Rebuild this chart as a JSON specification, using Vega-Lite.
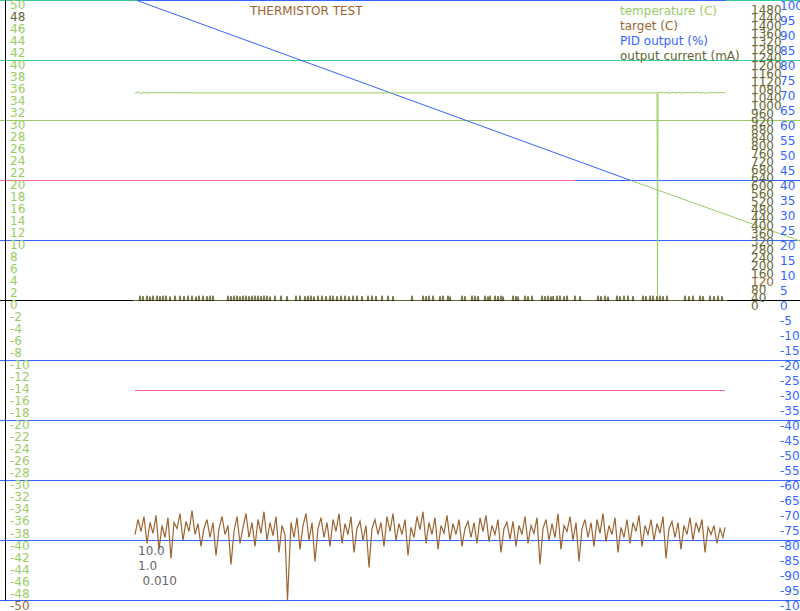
{
  "$schema": "https://vega.github.io/schema/vega-lite/v6.json",
  "width": 800,
  "height": 611,
  "autosize": {"type": "none"},
  "padding": 0,
  "background": "white",
  "config": {"view": {"stroke": null}, "text": {"font": "DejaVu Sans", "fontSize": 12}},
  "resolve": {"scale": {"y": "independent", "color": "independent"}},
  "layer": [
    {
      "data": {"values": [
        {"v": 50, "x0": 0, "x1": 137, "k": "upper"},
        {"v": 50, "x0": 137, "x1": 726, "k": "grid"},
        {"v": 50, "x0": 726, "x1": 800, "k": "upper"},
        {"v": 40, "x0": 0, "x1": 800, "k": "upper"},
        {"v": 30, "x0": 0, "x1": 800, "k": "band"},
        {"v": 20, "x0": 0, "x1": 575, "k": "limit"},
        {"v": 20, "x0": 575, "x1": 800, "k": "grid"},
        {"v": 10, "x0": 0, "x1": 800, "k": "grid"},
        {"v": 0, "x0": 0, "x1": 800, "k": "axis"},
        {"v": -10, "x0": 0, "x1": 800, "k": "grid"},
        {"v": -15, "x0": 135, "x1": 725, "k": "limit"},
        {"v": -20, "x0": 0, "x1": 800, "k": "grid"},
        {"v": -30, "x0": 0, "x1": 800, "k": "grid"},
        {"v": -40, "x0": 0, "x1": 800, "k": "grid"},
        {"v": -50, "x0": 0, "x1": 800, "k": "grid"}
      ]},
      "mark": {"type": "rule", "strokeWidth": 1},
      "encoding": {
        "x": {"field": "x0", "type": "quantitative", "scale": {"domain": [0, 800], "nice": false, "zero": false}, "axis": null},
        "x2": {"field": "x1"},
        "y": {"field": "v", "type": "quantitative", "scale": {"domain": [-51.75, 50.0833], "nice": false, "zero": false}, "axis": null},
        "color": {"field": "k", "type": "nominal", "legend": null,
          "scale": {"domain": ["upper", "grid", "band", "limit", "axis"], "range": ["#33cc99", "#3366ff", "#99cc66", "#ff6699", "#000000"]}}
      }
    },
    {
      "data": {"values": [{"t": 5.5, "v0": 50.0833, "v1": -50}]},
      "mark": {"type": "rule", "color": "#000000", "strokeWidth": 1},
      "encoding": {
        "x": {"field": "t", "type": "quantitative", "scale": {"domain": [0, 800], "nice": false, "zero": false}, "axis": null},
        "y": {"field": "v0", "type": "quantitative", "scale": {"domain": [-51.75, 50.0833], "nice": false, "zero": false}, "axis": null},
        "y2": {"field": "v1"}
      }
    },
    {
      "data": {"values": [
        {"t": 137, "v": 50, "s": "a"}, {"t": 631, "v": 20, "s": "a"},
        {"t": 631, "v": 20, "s": "b"}, {"t": 800, "v": 9.92, "s": "b"}
      ]},
      "mark": {"type": "line", "strokeWidth": 1},
      "encoding": {
        "x": {"field": "t", "type": "quantitative", "scale": {"domain": [0, 800], "nice": false, "zero": false}, "axis": null},
        "y": {"field": "v", "type": "quantitative", "scale": {"domain": [-51.75, 50.0833], "nice": false, "zero": false}, "axis": null},
        "color": {"field": "s", "type": "nominal", "legend": null, "scale": {"domain": ["a", "b"], "range": ["#3366ff", "#99cc66"]}}
      }
    },
    {
      "data": {"values": [
        {"t": 135, "v": 34.5}, {"t": 138, "v": 34.75}, {"t": 141, "v": 34.5}, {"t": 144, "v": 34.68}, {"t": 147, "v": 34.55},
        {"t": 150, "v": 34.62}, {"t": 200, "v": 34.6}, {"t": 300, "v": 34.6}, {"t": 400, "v": 34.6}, {"t": 500, "v": 34.6},
        {"t": 600, "v": 34.6}, {"t": 657, "v": 34.6}, {"t": 657.5, "v": 0.3}, {"t": 658, "v": 34.6},
        {"t": 661, "v": 34.72}, {"t": 664, "v": 34.55}, {"t": 667, "v": 34.7}, {"t": 670, "v": 34.52}, {"t": 673, "v": 34.72},
        {"t": 676, "v": 34.56}, {"t": 679, "v": 34.68}, {"t": 682, "v": 34.52}, {"t": 685, "v": 34.7}, {"t": 688, "v": 34.57},
        {"t": 691, "v": 34.68}, {"t": 694, "v": 34.54}, {"t": 697, "v": 34.72}, {"t": 700, "v": 34.56}, {"t": 703, "v": 34.66},
        {"t": 706, "v": 34.52}, {"t": 709, "v": 34.7}, {"t": 712, "v": 34.58}, {"t": 715, "v": 34.68}, {"t": 718, "v": 34.54},
        {"t": 721, "v": 34.7}, {"t": 725, "v": 34.6}
      ]},
      "mark": {"type": "line", "strokeWidth": 1, "color": "#99cc66"},
      "encoding": {
        "x": {"field": "t", "type": "quantitative", "scale": {"domain": [0, 800], "nice": false, "zero": false}, "axis": null},
        "y": {"field": "v", "type": "quantitative", "scale": {"domain": [-51.75, 50.0833], "nice": false, "zero": false}, "axis": null}
      }
    },
    {
      "data": {"values": [
        {"t":135,"v":-39.0},{"t":138,"v":-36.5},{"t":141,"v":-38.5},{"t":144,"v":-36.0},{"t":147,"v":-40.5},{"t":150,"v":-37.0},
        {"t":153,"v":-38.8},{"t":156,"v":-35.8},{"t":159,"v":-41.5},{"t":162,"v":-37.5},{"t":165,"v":-39.5},{"t":168,"v":-36.2},
        {"t":171,"v":-43.0},{"t":174,"v":-37.0},{"t":177,"v":-38.0},{"t":180,"v":-35.5},{"t":183,"v":-40.0},{"t":186,"v":-36.8},
        {"t":189,"v":-38.5},{"t":192,"v":-35.0},{"t":195,"v":-39.0},{"t":198,"v":-37.2},{"t":201,"v":-41.0},{"t":204,"v":-38.0},
        {"t":207,"v":-36.5},{"t":210,"v":-39.5},{"t":213,"v":-37.0},{"t":216,"v":-42.5},{"t":219,"v":-38.0},{"t":222,"v":-36.0},
        {"t":225,"v":-39.0},{"t":228,"v":-37.5},{"t":231,"v":-44.0},{"t":234,"v":-38.5},{"t":237,"v":-36.0},{"t":240,"v":-40.5},
        {"t":243,"v":-37.8},{"t":246,"v":-35.5},{"t":249,"v":-39.5},{"t":252,"v":-37.0},{"t":255,"v":-41.0},{"t":258,"v":-36.5},
        {"t":261,"v":-38.8},{"t":264,"v":-35.2},{"t":267,"v":-40.0},{"t":270,"v":-37.0},{"t":273,"v":-39.2},{"t":276,"v":-36.0},
        {"t":279,"v":-42.0},{"t":282,"v":-37.5},{"t":285,"v":-39.0},{"t":287.5,"v":-50.0},{"t":291,"v":-37.0},{"t":294,"v":-39.5},
        {"t":297,"v":-36.2},{"t":300,"v":-41.5},{"t":303,"v":-37.5},{"t":306,"v":-35.5},{"t":309,"v":-40.0},{"t":312,"v":-37.0},
        {"t":315,"v":-43.5},{"t":318,"v":-38.0},{"t":321,"v":-36.2},{"t":324,"v":-39.5},{"t":327,"v":-37.0},{"t":330,"v":-41.0},
        {"t":333,"v":-36.5},{"t":336,"v":-38.5},{"t":339,"v":-35.5},{"t":342,"v":-40.5},{"t":345,"v":-37.2},{"t":348,"v":-39.0},
        {"t":351,"v":-36.0},{"t":354,"v":-42.0},{"t":357,"v":-38.0},{"t":360,"v":-36.8},{"t":363,"v":-40.0},{"t":366,"v":-37.5},
        {"t":369,"v":-44.5},{"t":372,"v":-38.0},{"t":375,"v":-36.5},{"t":378,"v":-39.0},{"t":381,"v":-37.0},{"t":384,"v":-41.0},
        {"t":387,"v":-36.0},{"t":390,"v":-38.5},{"t":393,"v":-35.5},{"t":396,"v":-40.0},{"t":399,"v":-37.2},{"t":402,"v":-39.0},
        {"t":405,"v":-36.5},{"t":408,"v":-42.5},{"t":411,"v":-37.8},{"t":414,"v":-39.5},{"t":417,"v":-36.0},{"t":420,"v":-38.2},
        {"t":423,"v":-35.2},{"t":426,"v":-40.5},{"t":429,"v":-37.0},{"t":432,"v":-39.0},{"t":435,"v":-36.2},{"t":438,"v":-41.5},
        {"t":441,"v":-37.5},{"t":444,"v":-38.8},{"t":447,"v":-35.8},{"t":450,"v":-40.0},{"t":453,"v":-37.2},{"t":456,"v":-39.0},
        {"t":459,"v":-36.5},{"t":462,"v":-41.0},{"t":465,"v":-38.0},{"t":468,"v":-36.8},{"t":471,"v":-39.5},{"t":474,"v":-37.0},
        {"t":477,"v":-40.5},{"t":480,"v":-36.2},{"t":483,"v":-38.5},{"t":486,"v":-35.8},{"t":489,"v":-40.2},{"t":492,"v":-37.5},
        {"t":495,"v":-39.0},{"t":498,"v":-36.5},{"t":501,"v":-42.0},{"t":504,"v":-38.0},{"t":507,"v":-37.0},{"t":510,"v":-39.8},
        {"t":513,"v":-36.8},{"t":516,"v":-41.0},{"t":519,"v":-37.5},{"t":522,"v":-39.0},{"t":525,"v":-36.0},{"t":528,"v":-40.5},
        {"t":531,"v":-37.5},{"t":534,"v":-38.8},{"t":537,"v":-36.2},{"t":540,"v":-44.0},{"t":543,"v":-38.0},{"t":546,"v":-36.5},
        {"t":549,"v":-40.0},{"t":552,"v":-37.2},{"t":555,"v":-39.5},{"t":558,"v":-35.5},{"t":561,"v":-41.5},{"t":564,"v":-37.5},
        {"t":567,"v":-38.5},{"t":570,"v":-36.0},{"t":573,"v":-40.0},{"t":576,"v":-37.0},{"t":579,"v":-43.5},{"t":582,"v":-38.0},
        {"t":585,"v":-36.5},{"t":588,"v":-39.5},{"t":591,"v":-37.0},{"t":594,"v":-41.0},{"t":597,"v":-36.5},{"t":600,"v":-38.8},
        {"t":603,"v":-35.5},{"t":606,"v":-40.2},{"t":609,"v":-37.5},{"t":612,"v":-39.0},{"t":615,"v":-36.2},{"t":618,"v":-42.0},
        {"t":621,"v":-37.8},{"t":624,"v":-39.5},{"t":627,"v":-36.5},{"t":630,"v":-40.5},{"t":633,"v":-37.0},{"t":636,"v":-38.5},
        {"t":639,"v":-35.8},{"t":642,"v":-41.0},{"t":645,"v":-37.5},{"t":648,"v":-39.0},{"t":651,"v":-36.5},{"t":654,"v":-40.0},
        {"t":657,"v":-37.2},{"t":660,"v":-38.8},{"t":663,"v":-36.0},{"t":666,"v":-43.0},{"t":669,"v":-38.0},{"t":672,"v":-36.8},
        {"t":675,"v":-39.5},{"t":678,"v":-37.0},{"t":681,"v":-41.5},{"t":684,"v":-37.5},{"t":687,"v":-39.0},{"t":690,"v":-36.2},
        {"t":693,"v":-40.0},{"t":696,"v":-37.0},{"t":699,"v":-38.5},{"t":702,"v":-36.5},{"t":705,"v":-42.0},{"t":708,"v":-37.8},
        {"t":711,"v":-39.0},{"t":714,"v":-37.5},{"t":717,"v":-40.5},{"t":720,"v":-38.0},{"t":723,"v":-39.5},{"t":725,"v":-37.8}
      ]},
      "mark": {"type": "line", "strokeWidth": 1.2, "color": "#9c6430"},
      "encoding": {
        "x": {"field": "t", "type": "quantitative", "scale": {"domain": [0, 800], "nice": false, "zero": false}, "axis": null},
        "y": {"field": "v", "type": "quantitative", "scale": {"domain": [-51.75, 50.0833], "nice": false, "zero": false}, "axis": null}
      }
    },
    {
      "data": {"values": [
        {"t":133,"mA":0},
        {"t":139,"mA":0},{"t":140,"mA":24},{"t":141,"mA":0},{"t":142,"mA":0},{"t":143,"mA":22},{"t":144,"mA":0},
        {"t":146,"mA":0},{"t":147,"mA":24},{"t":148,"mA":0},{"t":149,"mA":0},{"t":150,"mA":20},{"t":151,"mA":0},
        {"t":152,"mA":0},{"t":153,"mA":24},{"t":154,"mA":0},{"t":156,"mA":0},{"t":157,"mA":24},{"t":158,"mA":0},
        {"t":159,"mA":0},{"t":160,"mA":22},{"t":161,"mA":0},{"t":162,"mA":0},{"t":163,"mA":24},{"t":164,"mA":0},
        {"t":165,"mA":0},{"t":166,"mA":24},{"t":167,"mA":0},{"t":169,"mA":0},{"t":170,"mA":20},{"t":171,"mA":0},
        {"t":174,"mA":0},{"t":175,"mA":24},{"t":176,"mA":0},{"t":179,"mA":0},{"t":180,"mA":24},{"t":181,"mA":0},
        {"t":183,"mA":0},{"t":184,"mA":22},{"t":185,"mA":0},{"t":187,"mA":0},{"t":188,"mA":24},{"t":189,"mA":0},
        {"t":191,"mA":0},{"t":192,"mA":24},{"t":193,"mA":0},{"t":195,"mA":0},{"t":196,"mA":20},{"t":197,"mA":0},
        {"t":198,"mA":0},{"t":199,"mA":24},{"t":200,"mA":0},{"t":202,"mA":0},{"t":203,"mA":24},{"t":204,"mA":0},
        {"t":206,"mA":0},{"t":207,"mA":22},{"t":208,"mA":0},{"t":209,"mA":0},{"t":210,"mA":24},{"t":211,"mA":0},
        {"t":212,"mA":0},{"t":213,"mA":24},{"t":214,"mA":0},
        {"t":227,"mA":0},{"t":228,"mA":24},{"t":229,"mA":0},{"t":230,"mA":0},{"t":231,"mA":22},{"t":232,"mA":0},
        {"t":233,"mA":0},{"t":234,"mA":24},{"t":235,"mA":0},{"t":236,"mA":0},{"t":237,"mA":24},{"t":238,"mA":0},
        {"t":239,"mA":0},{"t":240,"mA":20},{"t":241,"mA":0},{"t":242,"mA":0},{"t":243,"mA":24},{"t":244,"mA":0},
        {"t":245,"mA":0},{"t":246,"mA":24},{"t":247,"mA":0},{"t":248,"mA":0},{"t":249,"mA":22},{"t":250,"mA":0},
        {"t":251,"mA":0},{"t":252,"mA":24},{"t":253,"mA":0},{"t":254,"mA":0},{"t":255,"mA":24},{"t":256,"mA":0},
        {"t":257,"mA":0},{"t":258,"mA":24},{"t":259,"mA":0},{"t":260,"mA":0},{"t":261,"mA":22},{"t":262,"mA":0},
        {"t":263,"mA":0},{"t":264,"mA":24},{"t":265,"mA":0},{"t":266,"mA":0},{"t":267,"mA":24},{"t":268,"mA":0},
        {"t":269,"mA":0},{"t":270,"mA":20},{"t":271,"mA":0},{"t":274,"mA":0},{"t":275,"mA":24},{"t":276,"mA":0},
        {"t":280,"mA":0},{"t":281,"mA":24},{"t":282,"mA":0},{"t":286,"mA":0},{"t":287,"mA":22},{"t":288,"mA":0},
        {"t":295,"mA":0},{"t":296,"mA":24},{"t":297,"mA":0},{"t":299,"mA":0},{"t":300,"mA":24},{"t":301,"mA":0},
        {"t":304,"mA":0},{"t":305,"mA":22},{"t":306,"mA":0},{"t":307,"mA":0},{"t":308,"mA":24},{"t":309,"mA":0},
        {"t":310,"mA":0},{"t":311,"mA":24},{"t":312,"mA":0},{"t":313,"mA":0},{"t":314,"mA":20},{"t":315,"mA":0},
        {"t":317,"mA":0},{"t":318,"mA":24},{"t":319,"mA":0},{"t":321,"mA":0},{"t":322,"mA":24},{"t":323,"mA":0},
        {"t":325,"mA":0},{"t":326,"mA":22},{"t":327,"mA":0},{"t":329,"mA":0},{"t":330,"mA":24},{"t":331,"mA":0},
        {"t":332,"mA":0},{"t":333,"mA":24},{"t":334,"mA":0},{"t":336,"mA":0},{"t":337,"mA":22},{"t":338,"mA":0},
        {"t":340,"mA":0},{"t":341,"mA":24},{"t":342,"mA":0},{"t":344,"mA":0},{"t":345,"mA":24},{"t":346,"mA":0},
        {"t":348,"mA":0},{"t":349,"mA":20},{"t":350,"mA":0},{"t":352,"mA":0},{"t":353,"mA":24},{"t":354,"mA":0},
        {"t":356,"mA":0},{"t":357,"mA":24},{"t":358,"mA":0},{"t":361,"mA":0},{"t":362,"mA":22},{"t":363,"mA":0},
        {"t":367,"mA":0},{"t":368,"mA":24},{"t":369,"mA":0},{"t":371,"mA":0},{"t":372,"mA":24},{"t":373,"mA":0},
        {"t":375,"mA":0},{"t":376,"mA":22},{"t":377,"mA":0},{"t":381,"mA":0},{"t":382,"mA":24},{"t":383,"mA":0},
        {"t":387,"mA":0},{"t":388,"mA":24},{"t":389,"mA":0},{"t":392,"mA":0},{"t":393,"mA":22},{"t":394,"mA":0},
        {"t":411,"mA":0},{"t":412,"mA":24},{"t":413,"mA":0},{"t":422,"mA":0},{"t":423,"mA":24},{"t":424,"mA":0},
        {"t":425,"mA":0},{"t":426,"mA":22},{"t":427,"mA":0},{"t":428,"mA":0},{"t":429,"mA":24},{"t":430,"mA":0},
        {"t":432,"mA":0},{"t":433,"mA":24},{"t":434,"mA":0},{"t":439,"mA":0},{"t":440,"mA":22},{"t":441,"mA":0},
        {"t":442,"mA":0},{"t":443,"mA":24},{"t":444,"mA":0},{"t":447,"mA":0},{"t":448,"mA":24},{"t":449,"mA":0},
        {"t":449.5,"mA":0},{"t":450,"mA":20},{"t":451,"mA":0},{"t":461,"mA":0},{"t":462,"mA":24},{"t":463,"mA":0},
        {"t":464,"mA":0},{"t":465,"mA":22},{"t":466,"mA":0},{"t":471,"mA":0},{"t":472,"mA":24},{"t":473,"mA":0},
        {"t":474,"mA":0},{"t":475,"mA":24},{"t":476,"mA":0},{"t":477,"mA":0},{"t":478,"mA":22},{"t":479,"mA":0},
        {"t":484,"mA":0},{"t":485,"mA":24},{"t":486,"mA":0},{"t":487,"mA":0},{"t":488,"mA":20},{"t":489,"mA":0},
        {"t":489.5,"mA":0},{"t":490,"mA":24},{"t":491,"mA":0},{"t":494,"mA":0},{"t":495,"mA":24},{"t":496,"mA":0},
        {"t":497,"mA":0},{"t":498,"mA":22},{"t":499,"mA":0},{"t":500,"mA":0},{"t":501,"mA":24},{"t":502,"mA":0},
        {"t":502.5,"mA":0},{"t":503,"mA":20},{"t":504,"mA":0},{"t":512,"mA":0},{"t":513,"mA":24},{"t":514,"mA":0},
        {"t":515,"mA":0},{"t":516,"mA":22},{"t":517,"mA":0},{"t":517.5,"mA":0},{"t":518,"mA":20},{"t":519,"mA":0},
        {"t":524,"mA":0},{"t":525,"mA":24},{"t":526,"mA":0},{"t":527,"mA":0},{"t":528,"mA":22},{"t":529,"mA":0},
        {"t":531,"mA":0},{"t":532,"mA":24},{"t":533,"mA":0},{"t":541,"mA":0},{"t":542,"mA":24},{"t":543,"mA":0},
        {"t":544,"mA":0},{"t":545,"mA":22},{"t":546,"mA":0},{"t":547,"mA":0},{"t":548,"mA":24},{"t":549,"mA":0},
        {"t":550,"mA":0},{"t":551,"mA":20},{"t":552,"mA":0},{"t":552.5,"mA":0},{"t":553,"mA":22},{"t":554,"mA":0},
        {"t":556,"mA":0},{"t":557,"mA":24},{"t":558,"mA":0},{"t":559,"mA":0},{"t":560,"mA":24},{"t":561,"mA":0},
        {"t":563,"mA":0},{"t":564,"mA":22},{"t":565,"mA":0},{"t":566,"mA":0},{"t":567,"mA":24},{"t":568,"mA":0},
        {"t":574,"mA":0},{"t":575,"mA":24},{"t":576,"mA":0},{"t":579,"mA":0},{"t":580,"mA":22},{"t":581,"mA":0},
        {"t":597,"mA":0},{"t":598,"mA":24},{"t":599,"mA":0},{"t":600,"mA":0},{"t":601,"mA":22},{"t":602,"mA":0},
        {"t":604,"mA":0},{"t":605,"mA":24},{"t":606,"mA":0},{"t":607,"mA":0},{"t":608,"mA":20},{"t":609,"mA":0},
        {"t":616,"mA":0},{"t":617,"mA":24},{"t":618,"mA":0},{"t":619,"mA":0},{"t":620,"mA":22},{"t":621,"mA":0},
        {"t":623,"mA":0},{"t":624,"mA":24},{"t":625,"mA":0},{"t":627,"mA":0},{"t":628,"mA":24},{"t":629,"mA":0},
        {"t":632,"mA":0},{"t":633,"mA":22},{"t":634,"mA":0},{"t":642,"mA":0},{"t":643,"mA":24},{"t":644,"mA":0},
        {"t":645,"mA":0},{"t":646,"mA":22},{"t":647,"mA":0},{"t":649,"mA":0},{"t":650,"mA":24},{"t":651,"mA":0},
        {"t":652,"mA":0},{"t":653,"mA":24},{"t":654,"mA":0},{"t":656,"mA":0},{"t":657,"mA":22},{"t":658,"mA":0},
        {"t":659,"mA":0},{"t":660,"mA":24},{"t":661,"mA":0},{"t":662,"mA":0},{"t":663,"mA":22},{"t":664,"mA":0},
        {"t":666,"mA":0},{"t":667,"mA":24},{"t":668,"mA":0},{"t":684,"mA":0},{"t":685,"mA":24},{"t":686,"mA":0},
        {"t":688,"mA":0},{"t":689,"mA":22},{"t":690,"mA":0},{"t":692,"mA":0},{"t":693,"mA":24},{"t":694,"mA":0},
        {"t":699,"mA":0},{"t":700,"mA":24},{"t":701,"mA":0},{"t":702,"mA":0},{"t":703,"mA":22},{"t":704,"mA":0},
        {"t":709,"mA":0},{"t":710,"mA":24},{"t":711,"mA":0},{"t":713,"mA":0},{"t":714,"mA":22},{"t":715,"mA":0},
        {"t":717,"mA":0},{"t":718,"mA":24},{"t":719,"mA":0},{"t":721,"mA":0},{"t":722,"mA":22},{"t":723,"mA":0},
        {"t":727,"mA":0}
      ]},
      "mark": {"type": "line", "strokeWidth": 1, "color": "#666633"},
      "encoding": {
        "x": {"field": "t", "type": "quantitative", "scale": {"domain": [0, 800], "nice": false, "zero": false}, "axis": null},
        "y": {"field": "mA", "type": "quantitative", "scale": {"domain": [-1552.5, 1502.5], "nice": false, "zero": false}, "axis": null}
      }
    },
    {
      "data": {"values": [
        {"v":50},{"v":48},{"v":46},{"v":44},{"v":42},{"v":40},{"v":38},{"v":36},{"v":34},{"v":32},{"v":30},
        {"v":28},{"v":26},{"v":24},{"v":22},{"v":20},{"v":18},{"v":16},{"v":14},{"v":12},{"v":10},
        {"v":8},{"v":6},{"v":4},{"v":2},{"v":0},{"v":-2},{"v":-4},{"v":-6},{"v":-8},{"v":-10},
        {"v":-12},{"v":-14},{"v":-16},{"v":-18},{"v":-20},{"v":-22},{"v":-24},{"v":-26},{"v":-28},{"v":-30},
        {"v":-32},{"v":-34},{"v":-36},{"v":-38},{"v":-40},{"v":-42},{"v":-44},{"v":-46},{"v":-48},{"v":-50}
      ]},
      "mark": {"type": "text", "align": "left", "baseline": "top"},
      "encoding": {
        "x": {"datum": 10, "type": "quantitative", "scale": {"domain": [0, 800], "nice": false, "zero": false}, "axis": null},
        "y": {"field": "v", "type": "quantitative", "scale": {"domain": [-51.75, 50.0833], "nice": false, "zero": false}, "axis": null},
        "text": {"field": "v", "type": "nominal"},
        "color": {"condition": [{"test": "datum.v === 48", "value": "#666633"}, {"test": "datum.v === -50", "value": "#996633"}], "value": "#99cc66"}
      }
    },
    {
      "data": {"values": [
        {"p":100},{"p":95},{"p":90},{"p":85},{"p":80},{"p":75},{"p":70},{"p":65},{"p":60},{"p":55},{"p":50},
        {"p":45},{"p":40},{"p":35},{"p":30},{"p":25},{"p":20},{"p":15},{"p":10},{"p":5},{"p":0},
        {"p":-5},{"p":-10},{"p":-15},{"p":-20},{"p":-25},{"p":-30},{"p":-35},{"p":-40},{"p":-45},{"p":-50},
        {"p":-55},{"p":-60},{"p":-65},{"p":-70},{"p":-75},{"p":-80},{"p":-85},{"p":-90},{"p":-95},{"p":-100}
      ]},
      "mark": {"type": "text", "align": "left", "baseline": "top", "color": "#3366ff"},
      "encoding": {
        "x": {"datum": 780, "type": "quantitative", "scale": {"domain": [0, 800], "nice": false, "zero": false}, "axis": null},
        "y": {"field": "p", "type": "quantitative", "scale": {"domain": [-103.5, 100.1667], "nice": false, "zero": false}, "axis": null},
        "text": {"field": "p", "type": "nominal"}
      }
    },
    {
      "data": {"values": [
        {"mA":1480},{"mA":1440},{"mA":1400},{"mA":1360},{"mA":1320},{"mA":1280},{"mA":1240},{"mA":1200},
        {"mA":1160},{"mA":1120},{"mA":1080},{"mA":1040},{"mA":1000},{"mA":960},{"mA":920},{"mA":880},
        {"mA":840},{"mA":800},{"mA":760},{"mA":720},{"mA":680},{"mA":640},{"mA":600},{"mA":560},
        {"mA":520},{"mA":480},{"mA":440},{"mA":400},{"mA":360},{"mA":320},{"mA":280},{"mA":240},
        {"mA":200},{"mA":160},{"mA":120},{"mA":80},{"mA":40},{"mA":0}
      ]},
      "mark": {"type": "text", "align": "left", "baseline": "top"},
      "encoding": {
        "x": {"datum": 751, "type": "quantitative", "scale": {"domain": [0, 800], "nice": false, "zero": false}, "axis": null},
        "y": {"field": "mA", "type": "quantitative", "scale": {"domain": [-1552.5, 1502.5], "nice": false, "zero": false}, "axis": null},
        "text": {"field": "mA", "type": "nominal"},
        "color": {"condition": {"test": "datum.mA === 120", "value": "#996633"}, "value": "#666633"}
      }
    },
    {
      "data": {"values": [
        {"t": 250, "v": 48.33, "label": "THERMISTOR TEST", "role": "title"},
        {"t": 620, "v": 48.33, "label": "temperature (C)", "role": "temperature"},
        {"t": 620, "v": 45.83, "label": "target (C)", "role": "target"},
        {"t": 620, "v": 43.33, "label": "PID output (%)", "role": "pid"},
        {"t": 620, "v": 40.83, "label": "output current (mA)", "role": "current"},
        {"t": 138, "v": -41.75, "label": "10.0", "role": "note"},
        {"t": 138, "v": -44.17, "label": "1.0", "role": "note"},
        {"t": 142.5, "v": -46.78, "label": "0.010", "role": "note"}
      ]},
      "mark": {"type": "text", "align": "left", "baseline": "middle"},
      "encoding": {
        "x": {"field": "t", "type": "quantitative", "scale": {"domain": [0, 800], "nice": false, "zero": false}, "axis": null},
        "y": {"field": "v", "type": "quantitative", "scale": {"domain": [-51.75, 50.0833], "nice": false, "zero": false}, "axis": null},
        "text": {"field": "label", "type": "nominal"},
        "color": {"field": "role", "type": "nominal", "legend": null,
          "scale": {"domain": ["title", "temperature", "target", "pid", "current", "note"], "range": ["#a0622d", "#99cc66", "#996633", "#3366ff", "#666633", "#666666"]}}
      }
    }
  ]
}
